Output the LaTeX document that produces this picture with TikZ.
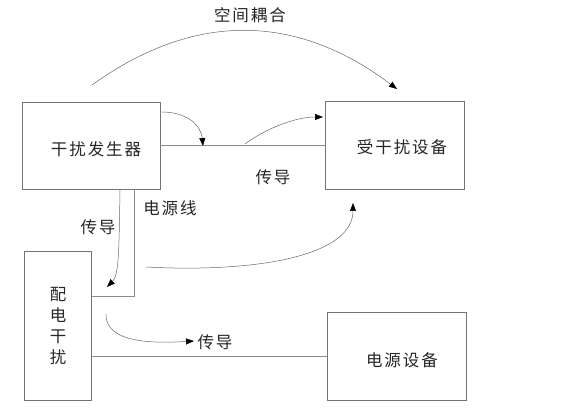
\documentclass[tikz,border=0pt]{standalone}
\usepackage{fontspec}
\setmainfont{Noto Sans CJK SC}[LetterSpace=12]
\usetikzlibrary{arrows.meta}
\begin{document}
\begin{tikzpicture}[x=1pt,y=-1pt,
  box/.style={draw=black!55,line width=0.6pt,inner sep=0pt,minimum width=#1},
  lbl/.style={font=\fontsize{16.5}{21}\selectfont,inner sep=0pt,text=black!85},
  wire/.style={draw=black!45,line width=0.6pt},
  flow/.style={draw=black!60,line width=0.5pt,-{Triangle[length=8pt,width=6pt,color=black]}}]
\useasboundingbox (0,0) rectangle (568,409);
\node[box=138pt,minimum height=87pt] (A) at (91,145.5) {};
\node[box=139pt,minimum height=88pt] (B) at (394.5,145) {};
\node[box=67pt,minimum height=149pt] (C) at (57.5,325.5) {};
\node[box=139pt,minimum height=88pt] (D) at (396.5,356) {};
\node[lbl] (tA) at (96,149) {干扰发生器};
\node[lbl] (tB) at (402,147) {受干扰设备};
\node[lbl,align=center] (tC) at (58,326) {配\\电\\干\\扰};
\node[lbl] (tD) at (402,360) {电源设备};
\node[lbl] (l1) at (250,15) {空间耦合};
\node[lbl] (l2) at (273,177) {传导};
\node[lbl] (l3) at (170,208) {电源线};
\node[lbl] (l4) at (98,227) {传导};
\node[lbl] (l5) at (215,342) {传导};
% wires
\coordinate (vx) at (134,189);
\coordinate (vy) at (134,296);
\draw[wire] (A.east) -- (A.east -| B.west);
\draw[wire] (A.south -| vx) -- (vy) -- (vy -| C.east);
\draw[wire] (C.east |- D.west) -- (D.west);
% curved arrows
\coordinate (s1) at (92,85);   \coordinate (e1) at (397,89);
\coordinate (s2) at (162,112); \coordinate (e2) at (203,146);
\coordinate (s3) at (245,144); \coordinate (e3) at (323,117);
\coordinate (s4) at (120,190); \coordinate (e4) at (107,287);
\coordinate (s5) at (146,267); \coordinate (e5) at (353,203);
\coordinate (s6) at (106,314); \coordinate (e6) at (194,341);
\draw[flow] (s1) .. controls (194,11.7) and (295.7,12.7) .. (e1);
\draw[flow] (s2) .. controls (185,112) and (201,124) .. (e2);
\draw[flow] (s3) .. controls (265,129) and (295,117) .. (e3);
\draw[flow] (s4) .. controls (119,250) and (119,275) .. (e4);
\draw[flow] (s5) .. controls (260,273) and (353,255) .. (e5);
\draw[flow] (s6) .. controls (105,345) and (160,343) .. (e6);
\end{tikzpicture}
\end{document}
